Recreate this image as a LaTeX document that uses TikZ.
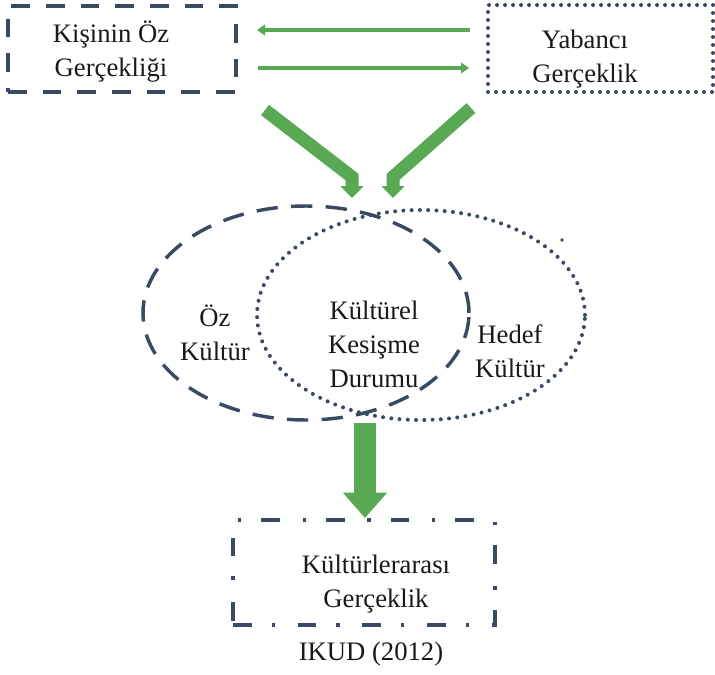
\documentclass[tikz,border=0pt]{standalone}
\usepackage{fontspec}
\setmainfont{Liberation Serif}
\usetikzlibrary{arrows.meta,shapes.geometric}
\definecolor{grn}{RGB}{88,168,84}
\definecolor{slate}{RGB}{58,74,98}
\definecolor{ink}{RGB}{25,25,25}
\begin{document}
\begin{tikzpicture}[x=0.75pt,y=-0.75pt,
  txt/.style={font=\fontsize{20}{25.5}\selectfont, text=ink, align=center, inner sep=0pt},
  dashbox/.style={rectangle, draw=slate, line width=3pt, dash pattern=on 14pt off 12pt, inner sep=0pt},
  dotbox/.style={rectangle, draw=slate, line width=3pt, line cap=round, dash pattern=on 0pt off 6pt, inner sep=0pt},
  dashdotbox/.style={rectangle, draw=slate, line width=3pt, dash pattern=on 14pt off 15pt on 2.5pt off 17pt, inner sep=0pt},
  dashell/.style={ellipse, draw=slate, line width=2.6pt, dash pattern=on 16pt off 10pt, inner sep=0pt},
  dotell/.style={ellipse, draw=slate, line width=3pt, line cap=round, dash pattern=on 0pt off 6.2pt, inner sep=0pt},
  thinarrow/.style={draw=grn, line width=3pt, -{Triangle[width=8pt,length=6pt]}},
  bentarrow/.style={draw=grn, line width=9.75pt, miter limit=10, -{Triangle[width=17pt,length=9pt]}},
  bigarrow/.style={draw=grn, line width=16.5pt, -{Triangle[width=32pt,length=19pt]}}
]
\useasboundingbox (0,0) rectangle (715,675);

% boxes
\node[dashbox, minimum width=171pt, minimum height=64.5pt] (selfbox) at (122,49) {};
\node[txt] (selftext) at (111,52) {Kişinin Öz\\Gerçekliği};
\node[dotbox, minimum width=168.75pt, minimum height=65.25pt] (foreignbox) at (600.5,48.5) {};
\node[txt] (foreigntext) at (585,59) {Yabancı\\Gerçeklik};

% horizontal arrows
\coordinate (h1s) at (470,30);
\coordinate (h1e) at (257,30);
\coordinate (h2s) at (258,68);
\coordinate (h2e) at (469,68);
\draw[thinarrow] (h1s) -- (h1e);
\draw[thinarrow] (h2s) -- (h2e);

% ellipses
\node[dashell, minimum width=244.5pt, minimum height=160.5pt] (ownell) at (306,313) {};
\node[dotell, minimum width=246pt, minimum height=157.5pt] (targetell) at (421,315) {};
\fill[slate] (562,240) circle (1.8);

% bent arrows
\coordinate (la) at (265,110);
\coordinate (lb) at (352,177);
\coordinate (lc) at (352,198);
\coordinate (ra) at (471,108);
\coordinate (rb) at (393,177);
\coordinate (rc) at (393,198);
\draw[bentarrow] (la) -- (lb) -- (lc);
\draw[bentarrow] (ra) -- (rb) -- (rc);

% ellipse texts
\node[txt] (owntext) at (215,333) {Öz\\Kültür};
\node[txt] (midtext) at (374,344) {Kültürel\\Kesişme\\Durumu};
\node[txt] (targettext) at (510,351) {Hedef\\Kültür};

% down arrow
\coordinate (dtop) at (365,423);
\coordinate (dtip) at (365,518);
\draw[bigarrow] (dtop) -- (dtip);

% bottom box
\node[dashdotbox, minimum width=196.5pt, minimum height=78.75pt] (interbox) at (364,572.5) {};
\node[txt] (intertext) at (376,584) {Kültürlerarası\\Gerçeklik};

\node[txt] (source) at (371,654) {IKUD (2012)};
\end{tikzpicture}
\end{document}
